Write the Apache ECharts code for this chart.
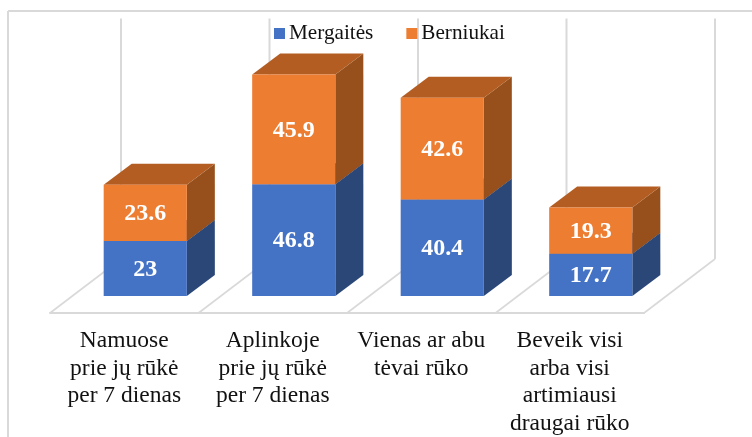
<!DOCTYPE html>
<html><head><meta charset="utf-8">
<style>html,body{margin:0;padding:0;background:#fff}#c{width:752px;height:437px}</style>
<script src="https://cdn.jsdelivr.net/npm/echarts@6/dist/echarts.min.js"></script>
</head><body><div id="c"></div>
<script>
const categories = ["Namuose\nprie jų rūkė\nper 7 dienas", "Aplinkoje\nprie jų rūkė\nper 7 dienas", "Vienas ar abu\ntėvai rūko", "Beveik visi\narba visi\nartimiausi\ndraugai rūko"];
const mergaites = [23, 46.8, 40.4, 17.7];
const berniukai = [23.6, 45.9, 42.6, 19.3];

const FONT = '"Liberation Serif","Times New Roman",serif';
const GRID = '#d9d9d9';
const chart = echarts.init(document.getElementById('c'), null, {renderer: 'canvas'});

function poly(points, fill) {
  return {type: 'polygon', shape: {points}, style: {fill, stroke: null}};
}
function barRenderer(front, side, top) {
  return function (params, api) {
    const i = api.value(0), v = api.value(1), base = api.value(2);
    const band = api.size([1, 0])[0];
    const p0 = api.coord([i, base]), p1 = api.coord([i, base + v]);
    const shiftX = band * 0.1415, shiftY = -17, w = band * 0.56, dx = 28, dy = -21;
    const l = p0[0] - w / 2 + shiftX, r = l + w;
    const yb = p0[1] + shiftY, yt = p1[1] + shiftY;
    return {type: 'group', children: [
      poly([[r, yb], [r + dx, yb + dy], [r + dx, yt + dy], [r, yt]], side),
      poly([[l, yt], [r, yt], [r + dx, yt + dy], [l + dx, yt + dy]], top),
      {type: 'rect', shape: {x: l, y: yt, width: w, height: yb - yt}, style: {fill: front}},
      {type: 'text', style: {x: (l + r) / 2, y: (yt + yb) / 2 + 1, text: String(v), fill: '#fff',
        font: 'bold 24px ' + FONT, align: 'center', verticalAlign: 'middle'}}
    ]};
  };
}
function furniture(params, api) {
  const i = api.value(0);
  const band = api.size([1, 0])[0];
  const c = api.coord([i, 0]);
  const wallTop = api.coord([i, 100])[1] - 55.5;
  const ddx = 71, ddy = -54;
  const line = (x) => [
    {type: 'line', shape: {x1: x, y1: c[1], x2: x + ddx, y2: c[1] + ddy}, style: {stroke: GRID, lineWidth: 1.6}},
    {type: 'line', shape: {x1: x + ddx, y1: c[1] + ddy, x2: x + ddx, y2: wallTop}, style: {stroke: GRID, lineWidth: 2}}
  ];
  let ch = line(c[0] - band / 2);
  if (i === categories.length - 1) ch = ch.concat(line(c[0] + band / 2));
  return {type: 'group', children: ch};
}
function stackData(vals, below) {
  return vals.map((v, i) => [i, v, below ? below[i] : 0]);
}

chart.setOption({
  animation: false,
  backgroundColor: '#fff',
  textStyle: {fontFamily: FONT},
  grid: {left: 50, right: 108, top: 74, bottom: 124, containLabel: false, outerBoundsMode: 'none'},
  legend: {
    left: 269, top: 18, itemWidth: 11, itemHeight: 11, itemGap: 33, icon: 'rect',
    data: ['Mergaitės', 'Berniukai'],
    textStyle: {fontFamily: FONT, fontSize: 21.2, color: '#111', padding: [0, 0, 0, -1]}
  },
  xAxis: {
    type: 'category', data: categories,
    axisTick: {show: false},
    axisLine: {show: true, lineStyle: {color: GRID, width: 2}},
    axisLabel: {fontFamily: FONT, fontSize: 23.5, color: '#111', lineHeight: 27.7, margin: 14, interval: 0},
    splitLine: {show: false}
  },
  yAxis: {type: 'value', min: 0, max: 100, show: false, splitLine: {show: false}},
  series: [
    {type: 'custom', silent: true, renderItem: furniture, data: categories.map((c, i) => [i, 0]), z: 1, legendHoverLink: false, encode: {x: 0, y: 1}},
    {type: 'custom', name: 'Mergaitės', itemStyle: {color: '#4472c4'}, z: 2,
      renderItem: barRenderer('#4472c4', '#2a4778', '#345a9c'), data: stackData(mergaites), encode: {x: 0, y: 1}},
    {type: 'custom', name: 'Berniukai', itemStyle: {color: '#ed7d31'}, z: 3,
      renderItem: barRenderer('#ed7d31', '#97501b', '#b35d22'), data: stackData(berniukai, mergaites), encode: {x: 0, y: 1}}
  ],
  graphic: [
    {type: 'line', shape: {x1: 8, y1: 11, x2: 752, y2: 11}, style: {stroke: GRID, lineWidth: 2}, silent: true},
    {type: 'line', shape: {x1: 8, y1: 11, x2: 8, y2: 437}, style: {stroke: GRID, lineWidth: 2}, silent: true}
  ]
});
</script></body></html>
